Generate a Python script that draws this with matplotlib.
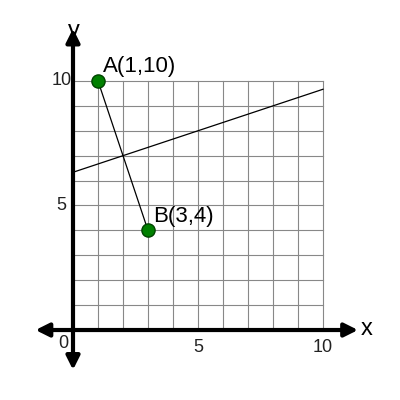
import matplotlib
matplotlib.use("Agg")
import matplotlib.pyplot as plt

plt.rcParams['font.family'] = ['Liberation Sans', 'DejaVu Sans']

points_x = [1, 3]
points_y = [10, 4]
point_labels = ["A(1,10)", "B(3,4)"]
line_x = [0, 10]
line_y = [19/3, 29/3]
tick_vals = [5, 10]

fig = plt.figure(figsize=(4, 4), dpi=100)
ax = fig.add_axes([0, 0, 1, 1])
ax.set_xlim(-2.92, 13.08)
ax.set_ylim(-2.81, 13.25)
ax.axis("off")

for i in range(11):
    ax.plot([i, i], [0, 10], color="#888888", lw=0.8, zorder=1)
    ax.plot([0, 10], [i, i], color="#888888", lw=0.8, zorder=1)

ax.annotate("", xy=(11.4, 0), xytext=(-1.5, 0),
            arrowprops=dict(arrowstyle="<|-|>,head_length=0.8,head_width=0.4", lw=3, color="black", shrinkA=0, shrinkB=0), zorder=3)
ax.annotate("", xy=(0, 12.1), xytext=(0, -1.6),
            arrowprops=dict(arrowstyle="<|-|>,head_length=0.8,head_width=0.4", lw=3, color="black", shrinkA=0, shrinkB=0), zorder=3)
ax.text(11.5, 0.05, "x", fontsize=17, ha="left", va="center")
ax.text(0.05, 12.0, "y", fontsize=17, ha="center", va="center", zorder=5)

for t in tick_vals:
    ax.text(t, -0.7, str(t), fontsize=13, ha="center", va="center", color="#222222")
    ax.text(-0.45, t, str(t), fontsize=13, ha="center", va="center", color="#222222")
ax.text(-0.4, -0.55, "0", fontsize=13, ha="center", va="center", color="#222222")

ax.plot(line_x, line_y, color="black", lw=0.9, zorder=2)
ax.plot(points_x, points_y, color="black", lw=0.9, zorder=2)
ax.scatter(points_x, points_y, s=90, color="green", edgecolor="#004400", zorder=4)
for x, y, lab in zip(points_x, points_y, point_labels):
    ax.text(x + 0.2, y + 0.15, lab, fontsize=16, ha="left", va="bottom")

fig.savefig("out.png")
